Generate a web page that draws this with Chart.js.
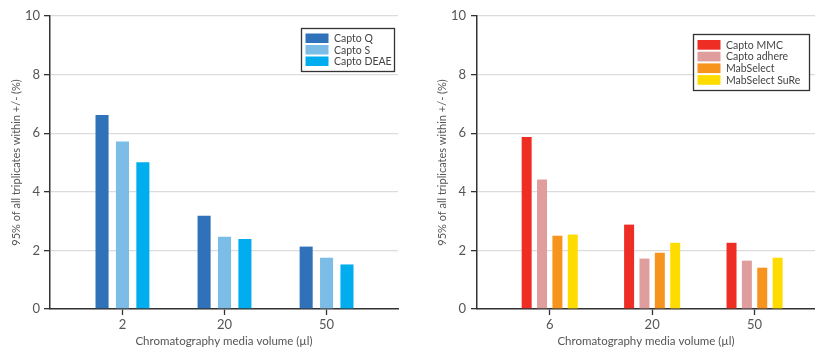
<!DOCTYPE html>
<html>
<head>
<meta charset="utf-8">
<script src="https://cdn.jsdelivr.net/npm/chart.js@4.4.1/dist/chart.umd.min.js"></script>
<style>
  html, body { margin: 0; padding: 0; background: #fff; }
  #wrap { position: relative; width: 815px; height: 348px; }
  .box { position: absolute; top: 0; height: 348px; }
</style>
</head>
<body>
<div id="wrap">
  <div class="box" style="left:0;width:410px"><canvas id="left-chart"></canvas></div>
  <div class="box" style="left:410px;width:405px"><canvas id="right-chart"></canvas></div>
</div>
<script>
// chart data
const leftVolumes = ['2', '20', '50'];
const rightVolumes = ['6', '20', '50'];
const yTicks = [0, 2, 4, 6, 8, 10];

const leftSeries = ['Capto Q', 'Capto S', 'Capto DEAE'];
const captoQ = [6.62, 3.18, 2.13];
const captoS = [5.72, 2.47, 1.75];
const captoDEAE = [5.01, 2.39, 1.52];

const rightSeries = ['Capto MMC', 'Capto adhere', 'MabSelect', 'MabSelect SuRe'];
const captoMMC = [5.87, 2.88, 2.26];
const captoAdhere = [4.42, 1.72, 1.65];
const mabSelect = [2.50, 1.92, 1.41];
const mabSelectSuRe = [2.54, 2.26, 1.75];

const leftColors = ['#2f72b9', '#7bbde6', '#00adee'];
const rightColors = ['#ee2e24', '#e09d9d', '#f7941d', '#ffdc00'];

const yTitle = '95% of all triplicates within +/- (%)';
const xTitle = 'Chromatography media volume (µl)';

const fontFamily = 'Lato, "Noto Sans", sans-serif';

// legend drawn as a framed box inside the plot area
const boxLegend = {
  id: 'boxLegend',
  afterDraw(chart, args, opts) {
    const ctx = chart.ctx;
    ctx.save();
    ctx.strokeStyle = '#333';
    ctx.lineWidth = 1.3;
    ctx.fillStyle = '#fff';
    ctx.fillRect(opts.x, opts.y, opts.w, opts.h);
    ctx.strokeRect(opts.x, opts.y, opts.w, opts.h);
    ctx.font = '10.5px ' + fontFamily;
    ctx.textBaseline = 'middle';
    chart.data.datasets.forEach((ds, i) => {
      const top = opts.y + opts.pad + i * opts.row;
      ctx.fillStyle = ds.backgroundColor;
      ctx.fillRect(opts.x + 4, top, 23, opts.row - 2);
      ctx.fillStyle = '#444';
      ctx.fillText(ds.label, opts.x + 32.5, top + (opts.row - 2) / 2 + 0.5);
    });
    ctx.restore();
  }
};

function makeChart(canvas, volumes, names, values, colors, cfg) {
  const datasets = names.map((name, s) => ({
    label: name,
    data: volumes.map((v, i) => ({ x: i, y: values[s][i] })),
    backgroundColor: colors[s],
    borderWidth: 0,
    categoryPercentage: 0.6,
    barPercentage: cfg.barPct
  }));

  return new Chart(canvas, {
    type: 'bar',
    data: { datasets: datasets },
    plugins: [boxLegend],
    options: {
      responsive: true,
      maintainAspectRatio: false,
      animation: false,
      layout: { padding: { top: 16, right: cfg.padRight, bottom: 0, left: 0 } },
      plugins: {
        legend: { display: false },
        tooltip: { enabled: false },
        boxLegend: cfg.legend
      },
      scales: {
        x: {
          type: 'linear',
          offset: false,
          min: -0.71,
          max: cfg.xMax,
          afterBuildTicks: (scale) => { scale.ticks = volumes.map((v, i) => ({ value: i })); },
          afterFit: (scale) => { scale.height = 39; },
          ticks: {
            callback: (value) => volumes[value],
            color: '#555',
            font: { family: fontFamily, size: 13 },
            padding: 2,
            maxRotation: 0
          },
          grid: { offset: false, drawOnChartArea: false, tickLength: 6, tickColor: '#333', tickWidth: 1.3 },
          border: { color: '#333', width: 1.5 },
          title: {
            display: true,
            text: xTitle,
            color: '#555',
            font: { family: fontFamily, size: 11.5, lineHeight: 1 },
            padding: { top: 0, bottom: 0.5 }
          }
        },
        y: {
          min: 0,
          max: 10,
          afterBuildTicks: (scale) => { scale.ticks = yTicks.map(v => ({ value: v })); },
          afterFit: (scale) => { scale.width = cfg.yWidth; },
          ticks: {
            color: '#555',
            font: { family: fontFamily, size: 13 },
            padding: cfg.tickPad
          },
          grid: { color: '#dcdcdc', lineWidth: 1.3, tickLength: 6, tickColor: '#333', tickWidth: 1.3 },
          border: { color: '#333', width: 1.5 },
          title: {
            display: true,
            text: yTitle,
            color: '#555',
            font: { family: fontFamily, size: 11, lineHeight: 1 },
            padding: { top: cfg.titlePad, bottom: 0 }
          }
        }
      }
    }
  });
}

makeChart(document.getElementById('left-chart'), leftVolumes, leftSeries,
  [captoQ, captoS, captoDEAE], leftColors,
  { barPct: 0.64, padRight: 12, xMax: 2.7, yWidth: 50, tickPad: 4, titlePad: 10.5,
    legend: { x: 301.5, y: 28.5, w: 93, h: 43, pad: 5, row: 11.5 } });

makeChart(document.getElementById('right-chart'), rightVolumes, rightSeries,
  [captoMMC, captoAdhere, mabSelect, mabSelectSuRe], rightColors,
  { barPct: 0.65, padRight: 0, xMax: 2.59, yWidth: 67, tickPad: 5, titlePad: 26.5,
    legend: { x: 283.5, y: 34.5, w: 116, h: 56, pad: 5.5, row: 11.7 } });
</script>
</body>
</html>
